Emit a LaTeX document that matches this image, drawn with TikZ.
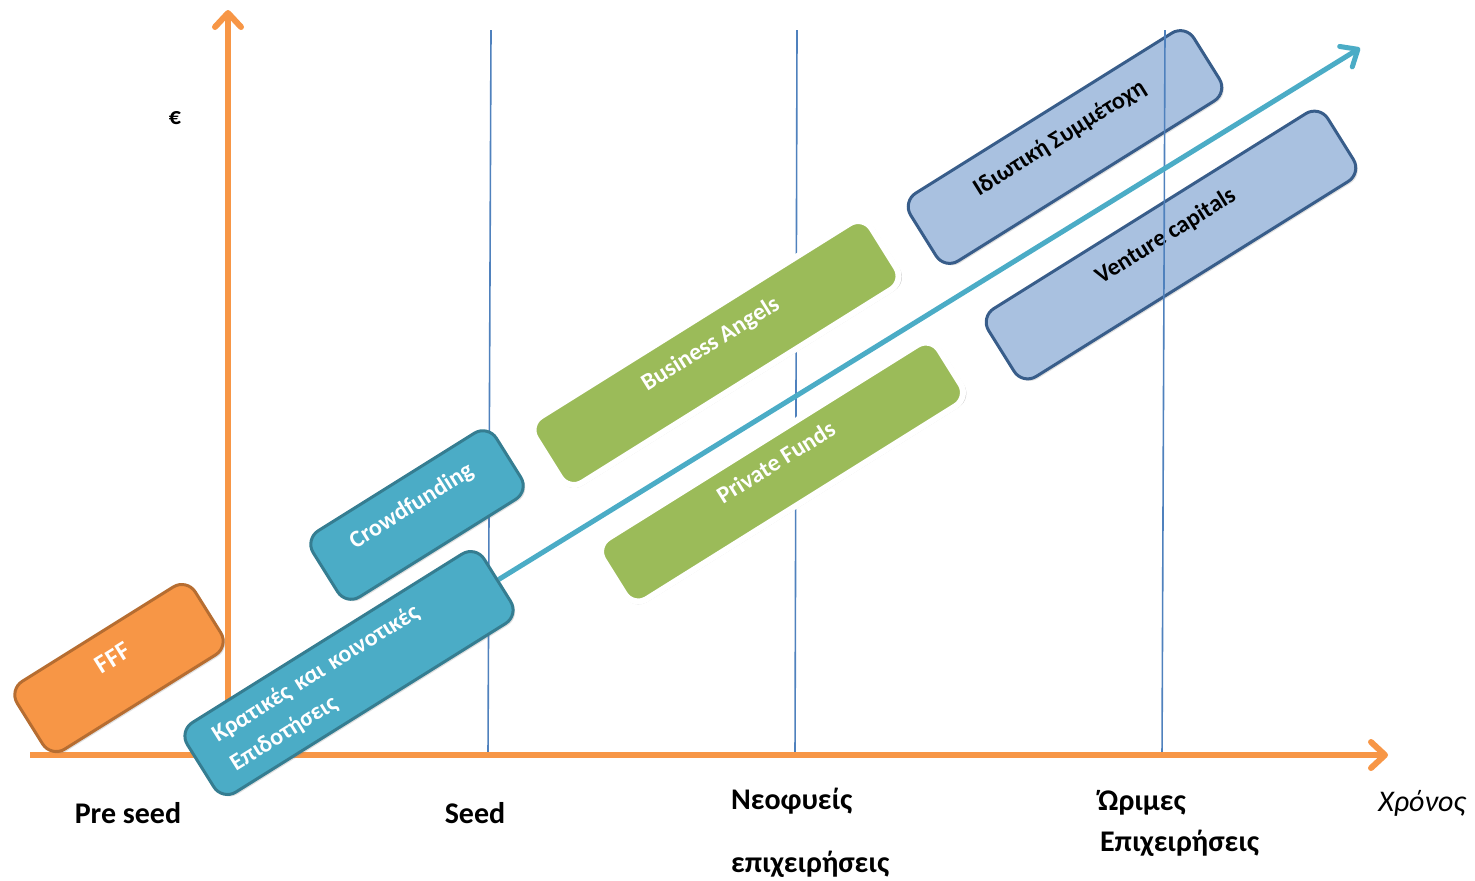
\documentclass[tikz,border=0pt]{standalone}
\usepackage{fontspec}
\setmainfont{Carlito}
\usetikzlibrary{arrows.meta}
\usetikzlibrary{shadows}
\usetikzlibrary{positioning}

\definecolor{axisorange}{HTML}{F79646}
\definecolor{fffborder}{HTML}{B66D31}
\definecolor{tealfill}{HTML}{4BACC6}
\definecolor{tealborder}{HTML}{357D91}
\definecolor{greenfill}{HTML}{9BBB59}
\definecolor{bluefill}{HTML}{A9C1E0}
\definecolor{blueborder}{HTML}{385D8A}
\definecolor{stageline}{HTML}{4F81BD}

\pgfdeclarelayer{back}
\pgfdeclarelayer{mid}
\pgfsetlayers{back,mid,main}

\tikzset{
  fundbox/.style={rounded corners=8pt,draw,line width=1.5pt,rotate=32,inner sep=2pt,
    font=\bfseries\fontsize{12}{14}\selectfont,text=white,
    drop shadow={shadow xshift=1pt,shadow yshift=-1pt,opacity=0.25}},
  raised/.style={text depth=12pt},
  orangebox/.style={fundbox,fill=axisorange,draw=fffborder},
  tealbox/.style={fundbox,fill=tealfill,draw=tealborder},
  greenbox/.style={fundbox,fill=greenfill,draw=white,line width=3pt,
    drop shadow={shadow xshift=0.8pt,shadow yshift=-0.8pt,shadow scale=1.01,opacity=0.4}},
  bluebox/.style={fundbox,fill=bluefill,draw=blueborder,text=black},
  stagelabel/.style={font=\bfseries\fontsize{15}{18}\selectfont},
  axisline/.style={axisorange,line width=3pt,
    -{Straight Barb[length=7pt,width=13pt,line cap=round,line join=round]}},
}

\begin{document}
\begin{tikzpicture}[x=0.5pt,y=-0.5pt]
  \useasboundingbox (0,0) rectangle (1475,880);

  \begin{pgfonlayer}{back}
    % mature stage boxes (lines run over them)
    \node[bluebox,raised,minimum width=167pt,minimum height=40pt] (private) at (1065,147) {Ιδιωτική Συμμέτοχη};
    \node[bluebox,raised,minimum width=200pt,minimum height=40pt] (venture) at (1171,245) {Venture capitals};

    % stage lines
    \draw[stageline,line width=0.8pt] (491,30) -- (488,755);
    \draw[stageline,line width=0.8pt] (797,30) -- (795,755);
    \draw[stageline,line width=0.8pt] (1165,30) -- (1162,755);

    % axes
    \coordinate (hstart) at (30,755);
    \coordinate (hend) at (1388,755);
    \coordinate (vbase) at (228,755);
    \coordinate (vtop) at (228,10);
    \draw[axisline] (hstart) -- (hend);
    \draw[axisline] (vbase) -- (vtop);
  \end{pgfonlayer}

  \node[font=\bfseries\fontsize{12}{14}\selectfont] (euro) at (175,118) {€};
  \node[stagelabel] (preseed) at (128,813) {Pre seed};
  \node[stagelabel] (seed) at (475,813) {Seed};
  \node[stagelabel,anchor=west] (startup) at (724,801) {Νεοφυείς};
  \node[stagelabel,anchor=west] (startup2) at (724,864) {επιχειρήσεις};
  \node[stagelabel,anchor=west] (mature) at (1091,803) {Ώριμες};
  \node[stagelabel,anchor=west] (mature2) at (1093,843) {Επιχειρήσεις};
  \node[font=\itshape\fontsize{15}{18}\selectfont] (time) at (1422,803) {Χρόνος};

  % funding boxes
  \node[tealbox,minimum width=175pt,minimum height=41pt,text width=148pt,align=left,
    font=\bfseries\fontsize{12}{17}\selectfont] (grants) at (349,673) {Κρατικές και κοινοτικές\\Επιδοτήσεις};
  \coordinate (growth) at (1360,48);
  \begin{pgfonlayer}{mid}
    \draw[tealfill,line width=2.5pt,
      -{Straight Barb[length=7pt,width=12pt,line cap=round,line join=round]}] (grants.east) -- (growth);
  \end{pgfonlayer}
  \node[orangebox,raised,minimum width=105pt,minimum height=40pt,font=\bfseries\fontsize{13}{15}\selectfont] (fff) at (119,668) {FFF};
  \node[tealbox,raised,minimum width=108pt,minimum height=39pt] (crowd) at (417,515) {Crowdfunding};
  \node[greenbox,raised,minimum width=198pt,minimum height=39pt] (angels) at (716,353) {Business Angels};
  \node[greenbox,raised,minimum width=198pt,minimum height=36pt] (funds) at (782,472) {Private Funds};
\end{tikzpicture}
\end{document}
